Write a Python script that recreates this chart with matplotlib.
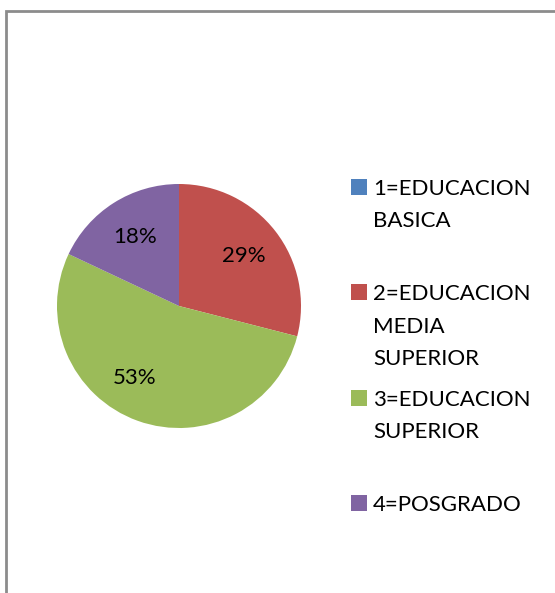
import matplotlib.pyplot as plt
from matplotlib.patches import Rectangle

categories = ['1=EDUCACION\nBASICA', '2=EDUCACION\nMEDIA\nSUPERIOR',
              '3=EDUCACION\nSUPERIOR', '4=POSGRADO']
values = [0, 29, 53, 18]
colors = ['#4F81BD', '#C0504D', '#9BBB59', '#8064A2']

W, H = 555, 593
plt.rcParams['font.family'] = ['Lato', 'DejaVu Sans']

fig = plt.figure(figsize=(W / 100, H / 100), dpi=100)

# outer chart border (only top/left are visible in the crop)
fig.add_artist(Rectangle((5.5 / W, -0.2), 1.5, 1 - 10.5 / H + 0.2,
                         transform=fig.transFigure, fill=False,
                         edgecolor='#8c8c8c', linewidth=2))

# pie area in pixels: center (179, 306), radius 122
cx, cy, r = 179, 306, 122
ax = fig.add_axes([(cx - r) / W, (H - cy - r) / H, 2 * r / W, 2 * r / H])
wedges, texts, autotexts = ax.pie(
    values, colors=colors, startangle=90, counterclock=False,
    autopct=lambda p: '' if p < 0.5 else '%.0f%%' % p,
    pctdistance=0.67, textprops={'fontsize': 16, 'color': 'black'},
    wedgeprops={'linewidth': 0})
autotexts[2].set_position((-0.36, -0.59))
ax.set_xlim(-1, 1)
ax.set_ylim(-1, 1)
ax.set_aspect('equal')

# legend, laid out like the Excel one
baselines = [[195, 227], [300, 333, 365], [406, 438], [511]]
for lab, col, bl in zip(categories, colors, baselines):
    fig.add_artist(Rectangle((351 / W, (H - bl[0]) / H), 16 / W, 16 / H,
                             transform=fig.transFigure, color=col, linewidth=0))
    for line, y in zip(lab.split('\n'), bl):
        fig.text(373 / W, (H - y) / H, line, fontsize=16, va='baseline',
                 ha='left')

fig.savefig('out.png', dpi=100)
